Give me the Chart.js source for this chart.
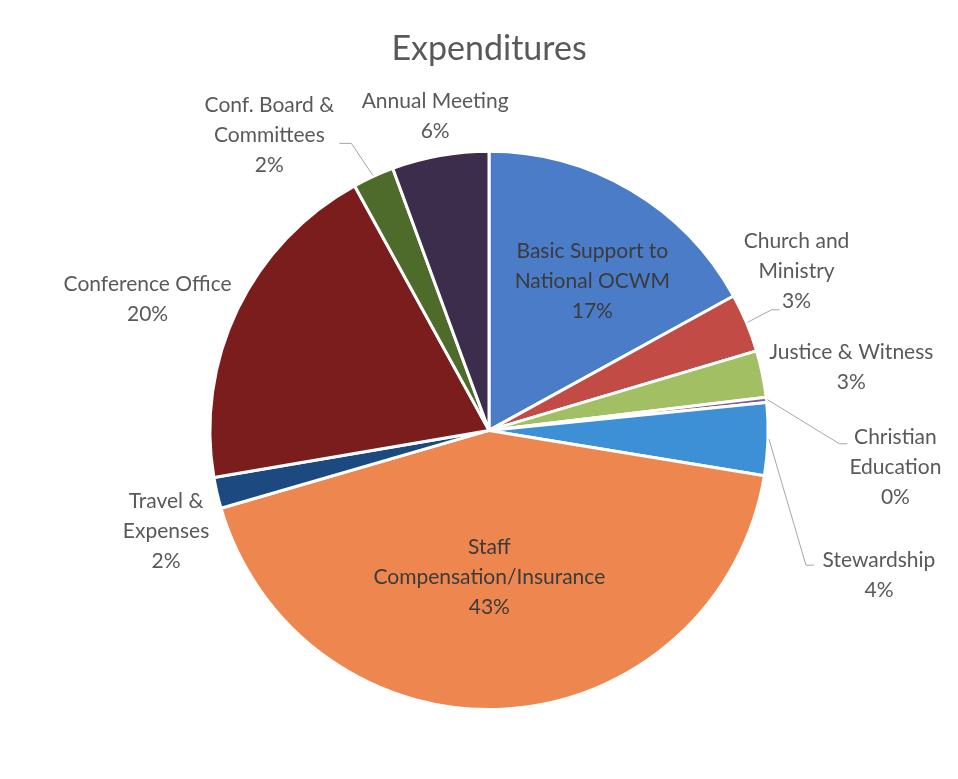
<!DOCTYPE html>
<html>
<head>
<meta charset="utf-8">
<script src="https://cdn.jsdelivr.net/npm/chart.js@4.4.1/dist/chart.umd.min.js"></script>
<style>
  html, body { margin: 0; padding: 0; background: #fff; }
  #wrap { width: 958px; height: 779px; }
</style>
</head>
<body>
<div id="wrap"><canvas id="mycanvas" width="958" height="779"></canvas></div>
<script>
// slices, clockwise from 12 o'clock
var categories = [
  ["Basic Support to", "National OCWM"],
  ["Church and", "Ministry"],
  ["Justice & Witness"],
  ["Christian", "Education"],
  ["Stewardship"],
  ["Staff", "Compensation/Insurance"],
  ["Travel &", "Expenses"],
  ["Conference Office"],
  ["Conf. Board &", "Committees"],
  ["Annual Meeting"]
];
var shares = [17.0, 3.4, 2.7, 0.3, 4.2, 42.9, 1.8, 19.7, 2.4, 5.6];
var sliceColors = ['#4a7cc8', '#c34b46', '#a2bf63', '#7d5fa0', '#3d8fd6',
                   '#ee8650', '#1c4a80', '#7b1d1d', '#4f6b2b', '#3b2d4b'];

// where each label sits: k = fraction of radius along slice middle, then a nudge
var labelPlacement = [
  {k: 0.65, dx: 11, dy: 7, color: '#3b3b3b'},
  {k: 1, dx: 50, dy: -52, leader: [-17, 39]},
  {k: 1, dx: 89, dy: -7},
  {k: 1, dx: 129, dy: 67, leader: [-48, -23]},
  {k: 1, dx: 111, dy: 136, leader: [-65, -10]},
  {k: 0.5, dx: -8, dy: 8, color: '#3b3b3b'},
  {k: 1, dx: -51, dy: 38},
  {k: 1, dx: -90, dy: -10},
  {k: 1, dx: -104, dy: -41, leader: [70, 8]},
  {k: 1, dx: -5, dy: -39}
];

var sliceLabels = {
  id: 'sliceLabels',
  afterDatasetsDraw: function(chart) {
    var c = chart.ctx;
    var meta = chart.getDatasetMeta(0);
    var total = shares.reduce(function(a, b) { return a + b; }, 0);
    var lineH = 30;
    c.save();
    c.font = '21px Lato';
    c.textAlign = 'center';
    c.textBaseline = 'middle';
    meta.data.forEach(function(arc, i) {
      var p = arc.getProps(['x', 'y', 'startAngle', 'endAngle', 'outerRadius'], true);
      var mid = (p.startAngle + p.endAngle) / 2;
      var pos = labelPlacement[i];
      var r = p.outerRadius * pos.k;
      var tx = p.x + Math.cos(mid) * r + pos.dx;
      var ty = p.y + Math.sin(mid) * r + pos.dy;
      var lines = categories[i].concat([Math.round(shares[i] / total * 100) + '%']);

      if (pos.leader) {
        var ex = tx + pos.leader[0];
        var ey = ty + pos.leader[1];
        var bx = pos.leader[0] < 0 ? ex - 8 : ex + 12;
        c.strokeStyle = '#a6a6a6';
        c.lineWidth = 1;
        c.beginPath();
        c.moveTo(p.x + Math.cos(mid) * (p.outerRadius + 1), p.y + Math.sin(mid) * (p.outerRadius + 1));
        c.lineTo(bx, ey);
        c.lineTo(ex, ey);
        c.stroke();
      }

      c.fillStyle = pos.color || '#595959';
      var y0 = ty - (lines.length - 1) / 2 * lineH;
      lines.forEach(function(t, j) {
        c.fillText(t, tx, y0 + j * lineH);
      });
    });
    c.restore();
  }
};

var ctx = document.getElementById('mycanvas');
var pieChart = new Chart(ctx, {
  type: 'pie',
  data: {
    labels: categories,
    datasets: [{
      data: shares,
      backgroundColor: sliceColors,
      borderColor: '#ffffff',
      borderWidth: 3
    }]
  },
  options: {
    responsive: false,
    animation: false,
    layout: {
      padding: { top: 0, bottom: 68, left: 208, right: 188 }
    },
    plugins: {
      legend: { display: false },
      tooltip: { enabled: false },
      title: {
        display: true,
        text: 'Expenditures',
        color: '#595959',
        font: { family: 'Lato', size: 34, weight: 'normal' },
        padding: { top: 29, bottom: 80 }
      }
    }
  },
  plugins: [sliceLabels]
});
</script>
</body>
</html>
